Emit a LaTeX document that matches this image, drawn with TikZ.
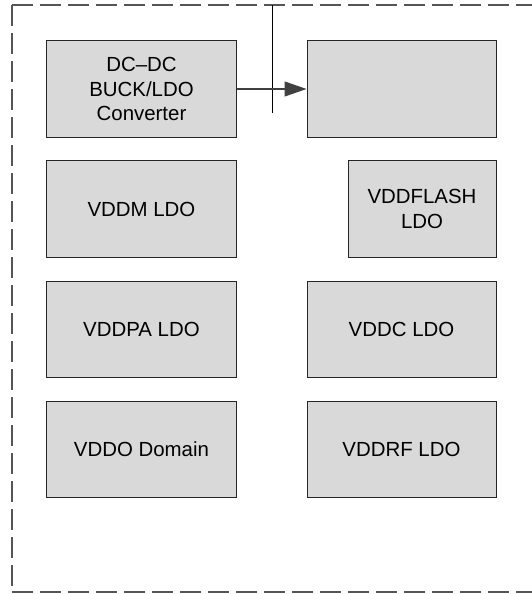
\documentclass[tikz,border=0pt]{standalone}
\usepackage{fontspec}
\setmainfont{Liberation Sans}
\usetikzlibrary{arrows.meta}
\definecolor{boxfill}{HTML}{D9D9D9}
\definecolor{boxline}{HTML}{262626}
\definecolor{framecol}{HTML}{555555}
\definecolor{arrowcol}{HTML}{404040}
\begin{document}
\begin{tikzpicture}[x=1bp,y=1bp,
  blockbox/.style={draw=boxline,fill=boxfill,line width=1bp,inner sep=0pt,
    minimum width=189bp,minimum height=96bp,align=center,
    font=\fontsize{20.5}{25}\selectfont},
  framedash/.style={draw=framecol,line width=1.2bp,dash pattern=on 21bp off 7bp},
  thinline/.style={draw=black,line width=1bp}]
\useasboundingbox (0,0) rectangle (532,-594);
\draw[framedash] (12,-5) -- (540,-5);
\draw[framedash] (12,-5) -- (12,-592);
\draw[framedash] (12,-592) -- (540,-592);
\node[blockbox] (dcdc) at (141.5,-89) {DC--DC\\BUCK/LDO\\Converter};
\node[blockbox] (top) at (401.5,-89) {};
\node[blockbox] (vddm) at (141.5,-209) {VDDM LDO};
\node[blockbox,minimum width=148bp] (vddflash) at (422,-209) {VDDFLASH\\LDO};
\node[blockbox] (vddpa) at (141.5,-329) {VDDPA LDO};
\node[blockbox] (vddc) at (401.5,-329) {VDDC LDO};
\node[blockbox] (vddo) at (141.5,-449) {VDDO Domain};
\node[blockbox] (vddrf) at (401.5,-449) {VDDRF LDO};
\coordinate (vtop) at (272,-5);
\coordinate (vbot) at (272,-113);
\draw[thinline] (vtop) -- (vbot);
\draw[draw=arrowcol,line width=1.2bp,-{Triangle[length=22bp,width=15bp]}] (dcdc.east) -- (top.west);
\end{tikzpicture}
\end{document}
